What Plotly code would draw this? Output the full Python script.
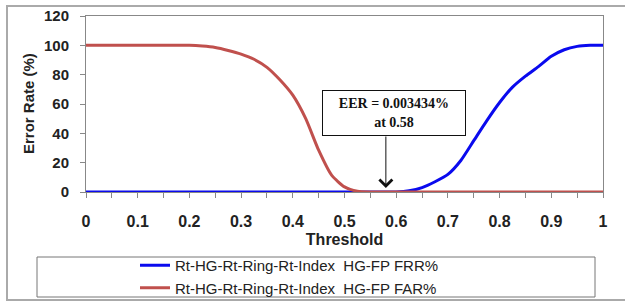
import plotly.graph_objects as go

# ---- data ----
threshold = [0.0, 0.025, 0.05, 0.075, 0.1, 0.125, 0.15, 0.175, 0.2, 0.225, 0.25, 0.275,
             0.3, 0.325, 0.35, 0.375, 0.4, 0.425, 0.45, 0.475, 0.5, 0.525, 0.55, 0.575,
             0.6, 0.625, 0.65, 0.675, 0.7, 0.725, 0.75, 0.775, 0.8, 0.825, 0.85, 0.875,
             0.9, 0.925, 0.95, 0.975, 1.0]
frr = [0, 0, 0, 0, 0, 0, 0, 0, 0, 0, 0, 0,
       0, 0, 0, 0, 0, 0, 0, 0, 0, 0, 0, 0,
       0, 0.8, 3, 7, 12, 21.5, 35, 48.5, 61, 71.5, 79, 85.5,
       92.5, 97, 99.3, 100, 100]
far = [100, 100, 100, 100, 100, 100, 100, 100, 100, 99.5, 98.5, 96.5,
       94, 90.5, 85, 76.5, 66, 50, 28.5, 11.5, 3.5, 0.5, 0, 0,
       0, 0, 0, 0, 0, 0, 0, 0, 0, 0, 0, 0,
       0, 0, 0, 0, 0]
series_names = ["Rt-HG-Rt-Ring-Rt-Index  HG-FP FRR%", "Rt-HG-Rt-Ring-Rt-Index  HG-FP FAR%"]
x_tickvals = [0, 0.1, 0.2, 0.3, 0.4, 0.5, 0.6, 0.7, 0.8, 0.9, 1.0]
x_ticklabels = ["0", "0.1", "0.2", "0.3", "0.4", "0.5", "0.6", "0.7", "0.8", "0.9", "1"]
y_tickvals = [0, 20, 40, 60, 80, 100, 120]
y_title = "Error Rate (%)"
x_title = "Threshold"
eer_threshold = 0.58
eer_text = "EER = 0.003434%<br>at 0.58"

fig = go.Figure()
fig.add_trace(go.Scatter(x=threshold, y=frr, mode="lines", name=series_names[0],
                         line=dict(color="#0a0aee", width=3, shape="spline", smoothing=0.6)))
fig.add_trace(go.Scatter(x=threshold, y=far, mode="lines", name=series_names[1],
                         line=dict(color="#c0504d", width=3, shape="spline", smoothing=0.6)))

W, H = 625, 302

fig.update_layout(
    width=W, height=H,
    margin=dict(l=86, r=22, t=16, b=110, autoexpand=False),
    paper_bgcolor="white", plot_bgcolor="white",
    font=dict(family="Liberation Sans, Arial", color="#222222"),
    showlegend=True,
    legend=dict(xref="container", yref="container",
                x=135 / W, y=1 - 249 / H, xanchor="left", yanchor="top",
                bgcolor="rgba(0,0,0,0)", borderwidth=0,
                font=dict(family="Liberation Sans, Arial", size=15, color="#222222"),
                tracegroupgap=0),
    xaxis=dict(range=[0, 1], tickvals=x_tickvals, ticktext=x_ticklabels,
               ticks="outside", ticklen=5, tickcolor="#888888",
               minor=dict(dtick=0.05, ticks="outside", ticklen=5, tickcolor="#888888"),
               showgrid=False, zeroline=False, showline=True, linecolor="#888888",
               linewidth=1, mirror=True,
               tickfont=dict(family="Liberation Sans, Arial", size=16, color="#222222", weight="bold"),
               ticklabelstandoff=10,
               title=dict(text="<b>" + x_title + "</b>", font=dict(size=16, color="#222222"), standoff=4)),
    yaxis=dict(range=[0, 120], tickvals=y_tickvals,
               ticks="outside", ticklen=5, tickcolor="#888888",
               showgrid=False, zeroline=False, showline=True, linecolor="#888888",
               linewidth=1, mirror=True,
               tickfont=dict(family="Liberation Sans, Arial", size=15, color="#222222", weight="bold"),
               ticklabelstandoff=8),
    shapes=[
        dict(type="rect", xref="paper", yref="paper",
             x0=(7 - 86) / 517, x1=(640 - 86) / 517,
             y0=(192 - 300) / 176, y1=(192 - 6) / 176,
             line=dict(color="#aaaaaa", width=2), fillcolor="rgba(0,0,0,0)", layer="below"),
        dict(type="rect", xref="paper", yref="paper",
             x0=(37 - 86) / 517, x1=(595 - 86) / 517,
             y0=(192 - 297) / 176, y1=(192 - 257) / 176,
             line=dict(color="#777777", width=1), fillcolor="white", layer="below"),
    ],
    annotations=[
        dict(x=(28 - 86) / 517, y=0.5, xref="paper", yref="paper",
             text="<b>" + y_title + "</b>", textangle=-90, showarrow=False,
             font=dict(family="Liberation Sans, Arial", size=15, color="#222222"),
             xanchor="center", yanchor="middle"),
        dict(x=eer_threshold, y=(192 - 112.5) / (176 / 120), xref="x", yref="y",
             xshift=8, text="<b>" + eer_text + "</b>", showarrow=False,
             font=dict(family="Liberation Serif, Times New Roman", size=14, color="#111111"),
             bordercolor="#111111", borderwidth=1, bgcolor="white",
             width=140, height=42, align="center"),
        dict(x=eer_threshold, y=(192 - 188) / (176 / 120), xref="x", yref="y",
             ax=eer_threshold, ay=(192 - 135) / (176 / 120), axref="x", ayref="y",
             text="", showarrow=True, arrowhead=4, arrowsize=2.5, arrowwidth=1,
             arrowcolor="#111111"),
    ],
)

fig.write_html("out.html", config={"displayModeBar": False},
               post_script="document.body.style.margin='0';document.body.style.padding='0';")
